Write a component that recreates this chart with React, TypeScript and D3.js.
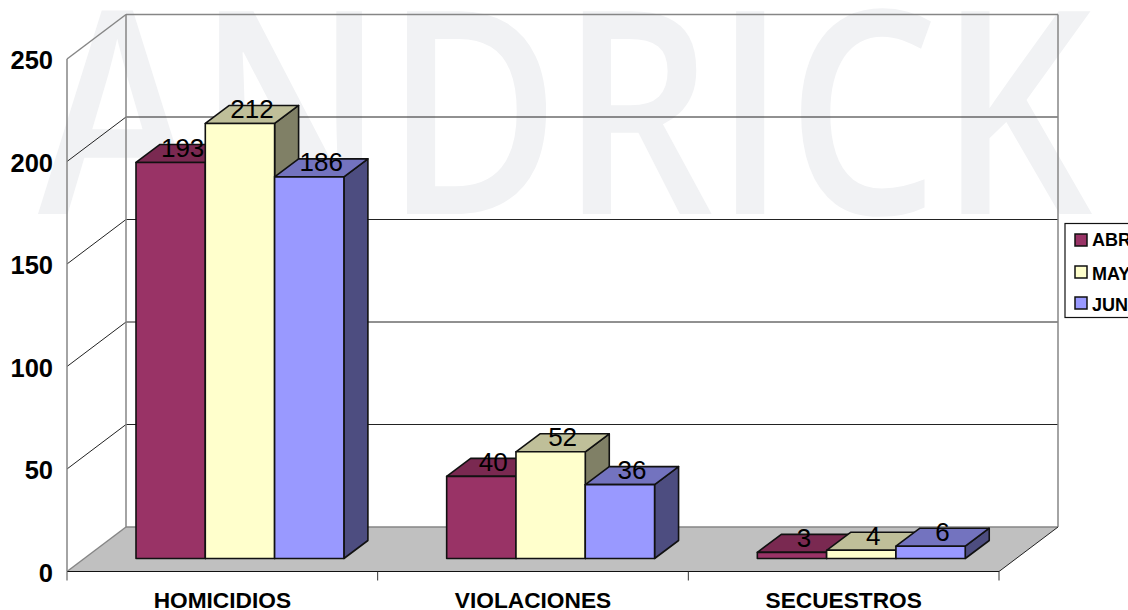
import React from "react";
import * as d3 from "d3";

const categories = ["HOMICIDIOS", "VIOLACIONES", "SECUESTROS"];
const seriesNames = ["ABR", "MAY", "JUN"];
const abr = [193, 40, 3];
const may = [212, 52, 4];
const jun = [186, 36, 6];
const seriesValues = [abr, may, jun];
const yTicks = [0, 50, 100, 150, 200, 250];
const fronts = ["#993366", "#ffffcc", "#9999ff"];
const tops = ["#7a2951", "#bfbf99", "#7373bf"];
const sides = ["#5c1f3d", "#808066", "#4d4d80"];

const W = 1128, H = 610;
const FONT = "'Liberation Sans', Arial, sans-serif";

export default function App() {
  const yFront = d3.scaleLinear().domain([0, 250]).range([571.5, 59]);
  const yBar = d3.scaleLinear().domain([0, 250]).range([558.5, 45.5]);
  const xCat = d3.scaleBand<string>().domain(categories).range([67, 999]);
  const step = xCat.bandwidth();
  const depthX = 59, depthY = -44.5;
  const barW = 69.3;
  const bdx = 24, bdy = -18;
  const pad = 69;
  const gray = "#868686";
  const x0 = 67, x1 = 999;
  const poly = (p: number[][]) => p.map((c) => c.join(",")).join(" ");

  return (
    <svg width={W} height={H} style={{ position: "absolute", left: 0, top: 0, background: "#fff" }} fontFamily={FONT}>
      <text x={38} y={214} fontFamily="'Open Sans', sans-serif" fontWeight={600} fontSize={284} fill="#f1f2f4" textLength={1054} lengthAdjust="spacingAndGlyphs">ANDRICK</text>

      {/* floor */}
      <polygon
        points={poly([[x0, yFront(0)], [x1, yFront(0)], [x1 + depthX, yFront(0) + depthY], [x0 + depthX, yFront(0) + depthY]])}
        fill="#c0c0c0"
      />
      {/* gridlines */}
      {yTicks.filter((t) => t > 0 && t < 250).map((t) => (
        <g key={t} stroke="#222" strokeWidth={1} fill="none">
          <line x1={x0} y1={yFront(t)} x2={x0 + depthX} y2={yFront(t) + depthY} />
          <line x1={x0 + depthX} y1={yFront(t) + depthY} x2={x1 + depthX} y2={yFront(t) + depthY} />
        </g>
      ))}
      {/* walls */}
      <g stroke={gray} strokeWidth={1.5} fill="none">
        <line x1={x0} y1={yFront(250)} x2={x0} y2={yFront(0)} />
        <line x1={x0} y1={yFront(250)} x2={x0 + depthX} y2={yFront(250) + depthY} />
        <line x1={x0 + depthX} y1={yFront(250) + depthY} x2={x1 + depthX} y2={yFront(250) + depthY} />
        <line x1={x0 + depthX} y1={yFront(250) + depthY} x2={x0 + depthX} y2={yFront(0) + depthY} />
        <line x1={x1 + depthX} y1={yFront(250) + depthY} x2={x1 + depthX} y2={yFront(0) + depthY} />
        <line x1={x0 + depthX} y1={yFront(0) + depthY} x2={x1 + depthX} y2={yFront(0) + depthY} />
        <line x1={x0} y1={yFront(0)} x2={x0 + depthX} y2={yFront(0) + depthY} />
      </g>
      <line x1={x1} y1={yFront(0)} x2={x1 + depthX} y2={yFront(0) + depthY} stroke="#222" strokeWidth={1} />
      {/* x axis */}
      <line x1={x0} y1={yFront(0)} x2={x1} y2={yFront(0)} stroke="#111" strokeWidth={1} />
      <line x1={x0} y1={yFront(0)} x2={x0} y2={yFront(0) + 9} stroke={gray} strokeWidth={1.5} />
      {categories.map((c) => (
        <line key={c} x1={(xCat(c) as number) + step} y1={yFront(0)} x2={(xCat(c) as number) + step} y2={yFront(0) + 9} stroke="#333" strokeWidth={1} />
      ))}

      {/* bars */}
      {categories.map((c, ci) =>
        seriesValues.map((vals, si) => {
          const l = (xCat(c) as number) + pad + si * barW;
          const r = l + barW;
          const top = yBar(vals[ci]);
          const base = yBar(0);
          return (
            <g key={c + si} stroke="#111" strokeWidth={1.6} strokeLinejoin="round">
              <polygon points={poly([[r, base], [r + bdx, base + bdy], [r + bdx, top + bdy], [r, top]])} fill={sides[si]} />
              <polygon points={poly([[l, top], [l + bdx, top + bdy], [r + bdx, top + bdy], [r, top]])} fill={tops[si]} />
              <rect x={l} y={top} width={barW} height={base - top} fill={fronts[si]} />
            </g>
          );
        })
      )}

      {/* data labels */}
      {categories.map((c, ci) =>
        seriesValues.map((vals, si) => (
          <text
            key={c + si}
            x={(xCat(c) as number) + pad + si * barW + barW / 2 + 12}
            y={yBar(vals[ci]) - 5.5}
            fontSize={26}
            textAnchor="middle"
            fill="#000"
          >
            {vals[ci]}
          </text>
        ))
      )}

      {/* y axis labels */}
      {yTicks.map((t) => (
        <text key={t} x={53} y={yFront(t) + 10} fontSize={25.5} fontWeight="bold" textAnchor="end" fill="#000">{t}</text>
      ))}
      {/* x labels */}
      {categories.map((c) => (
        <text key={c} x={(xCat(c) as number) + step / 2} y={608} fontSize={22.7} fontWeight="bold" textAnchor="middle" fill="#000">{c}</text>
      ))}

      {/* legend */}
      <rect x={1065} y={223.5} width={90} height={94} fill="#fff" stroke="#111" strokeWidth={1.2} />
      {seriesNames.map((s, i) => {
        const cy = [240, 272, 303][i];
        const by = [246, 280, 311][i];
        return (
          <g key={s}>
            <rect x={1075} y={cy - 6} width={12} height={12} fill={fronts[i]} stroke="#111" strokeWidth={1.5} />
            <text x={1092} y={by} fontSize={18} fontWeight="bold" fill="#000">{s}</text>
          </g>
        );
      })}
    </svg>
  );
}
